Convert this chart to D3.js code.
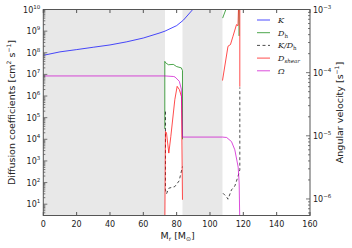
<!DOCTYPE html>
<html>
<head>
<meta charset="utf-8">
<script src="https://cdn.jsdelivr.net/npm/d3@7"></script>
<style>
  body { margin: 0; background: #fff; }
  text { font-family: "DejaVu Sans", sans-serif; fill: #222; }
  .leg { font-family: "DejaVu Serif", serif; font-style: italic; font-size: 8px; }
</style>
</head>
<body>
<div id="chart"></div>
<script>
// mass coordinate [Msun] and values
const grayZones = [[0, 73], [83.5, 107.5]];
const kappa = [[0, 7.6e7], [10, 1.1e8], [20, 1.4e8], [30, 1.8e8], [40, 2.3e8], [50, 3.2e8], [60, 4.8e8],
    [70, 8.3e8], [73, 1.0e9], [80, 1.8e9], [84, 3.2e9], [90, 1.07e10], [92, 1.6e10]];
const dh = [[72.9, 3e4], [72.9, 4e7], [73.3, 3.5e7], [75, 2.8e7], [78, 2.9e7], [80, 2.3e7], [82.8, 2.0e7],
    [83.5, 1.5e7], [83.5, 1e4], null,
    [107.6, 4e9], [109.9, 1.2e10], null,
    [117.4, 6e8], [117.4, 1.5e10]];
const kOverDh = [[73.3, 1.9e5], [73.3, 46], [73.9, 30], [75.3, 55], [78.9, 65], [81.5, 120], [83.5, 550], null,
    [107.8, 32], [109.9, 22], [110.8, 17], [112.9, 46], [114.9, 69], [116.8, 190], [117.9, 390], [117.9, 2.5e6]];
const dshear = [[72.9, 1], [73.3, 2.3e4], [73.9, 2.0e4], [75.3, 2.3e3], [76.5, 1.35e4], [78.9, 6.8e5],
    [80.3, 2.8e6], [81.6, 2.0e6], [82.9, 9.5e5], [83.5, 16], null,
    [107.5, 5.2e6], [110.8, 2.0e8], [112.3, 2.4e8], [113.8, 5.8e8], [115.9, 2.0e9], [116.8, 1.8e9],
    [117.2, 2e10], [117.9, 2e10], [117.9, 2.7e6]];
const omega = [[0, 8.87e-5], [73, 8.87e-5], [78, 8.7e-5], [79, 8.55e-5], [81.6, 7.3e-5], [82.8, 5.5e-5],
    [83.5, 9.55e-6], [107.5, 9.55e-6], [110, 9.4e-6], [112.9, 8.1e-6], [114.9, 6.0e-6], [116.9, 3.2e-6],
    [117.5, 1.8e-6], [117.9, 4e-7]];
const xTicks = [0, 20, 40, 60, 80, 100, 120, 140, 160];
const leftExp = [1, 2, 3, 4, 5, 6, 7, 8, 9, 10];
const rightExp = [-6, -5, -4, -3];

const width = 352, height = 248;
const L = 43.3, R = 310, T = 9.5, B = 215.5;

const x = d3.scaleLinear().domain([0, 160]).range([L, R]);
const y = d3.scaleLog().domain([3, 1e10]).range([B, T]);
const y2 = d3.scaleLog().domain([5.47e-7, 1e-3]).range([B, T]);

const svg = d3.select('#chart').append('svg')
    .attr('width', width)
    .attr('height', height);

svg.append('clipPath').attr('id', 'clip')
    .append('rect').attr('x', L).attr('y', T).attr('width', R - L).attr('height', B - T);

// shaded zones
svg.append('g').selectAll('rect')
    .data(grayZones).enter()
    .append('rect')
    .attr('x', d => x(d[0]))
    .attr('width', d => x(d[1]) - x(d[0]))
    .attr('y', T)
    .attr('height', B - T)
    .attr('fill', '#e8e8e8');

const plot = svg.append('g').attr('clip-path', 'url(#clip)');

function drawLine(data, scale, color, dash) {
    const line = d3.line()
        .defined(d => d !== null)
        .x(d => x(d[0]))
        .y(d => scale(d[1]));
    plot.append('path')
        .datum(data)
        .attr('d', line)
        .attr('fill', 'none')
        .attr('stroke', color)
        .attr('stroke-width', 1)
        .attr('stroke-dasharray', dash || null);
}

const colors = {
    K: 'rgba(0,0,255,0.7)',
    Dh: 'rgba(0,128,0,0.7)',
    KD: 'rgba(0,0,0,0.7)',
    Ds: 'rgba(255,0,0,0.7)',
    Om: 'rgba(204,0,204,0.7)'
};

drawLine(kappa, y, colors.K);
drawLine(dh, y, colors.Dh);
drawLine(kOverDh, y, colors.KD, '3,2.5');
drawLine(dshear, y, colors.Ds);
drawLine(omega, y2, colors.Om);

// frame
const axisColor = '#555';
svg.append('rect')
    .attr('x', L).attr('y', T)
    .attr('width', R - L).attr('height', B - T)
    .attr('fill', 'none')
    .attr('stroke', axisColor)
    .attr('stroke-width', 1);

// x ticks, top and bottom, inside
const xt = svg.append('g');
xTicks.forEach(function (d) {
    xt.append('line').attr('x1', x(d)).attr('x2', x(d)).attr('y1', B).attr('y2', B - 3.5)
        .attr('stroke', axisColor);
    xt.append('line').attr('x1', x(d)).attr('x2', x(d)).attr('y1', T).attr('y2', T + 3.5)
        .attr('stroke', axisColor);
    xt.append('text')
        .attr('x', x(d)).attr('y', B + 11)
        .attr('text-anchor', 'middle')
        .attr('font-size', 8)
        .text(d);
});

// log ticks helper
function logTicks(scale, side) {
    const g = svg.append('g');
    const [lo, hi] = scale.domain();
    const e0 = Math.floor(Math.log10(lo)), e1 = Math.ceil(Math.log10(hi));
    const xs = side === 'left' ? L : R;
    const dir = side === 'left' ? 1 : -1;
    for (let e = e0; e <= e1; e++) {
        for (let m = 1; m <= 9; m++) {
            const v = m * Math.pow(10, e);
            if (v < lo * 0.999 || v > hi * 1.001) continue;
            const len = m === 1 ? 4 : 2;
            g.append('line')
                .attr('x1', xs).attr('x2', xs + dir * len)
                .attr('y1', scale(v)).attr('y2', scale(v))
                .attr('stroke', axisColor)
                .attr('stroke-width', 0.8);
        }
    }
    return g;
}
logTicks(y, 'left');
logTicks(y2, 'right');

function powLabel(g, xp, yp, exp, anchor) {
    const t = g.append('text')
        .attr('x', xp).attr('y', yp)
        .attr('text-anchor', anchor)
        .attr('font-size', 8);
    t.append('tspan').text('10');
    t.append('tspan').attr('dy', -4).attr('font-size', 5.5).text(String(exp).replace('-', '\u2212'));
}

const lab = svg.append('g');
leftExp.forEach(e => powLabel(lab, L - 3, y(Math.pow(10, e)) + 3, e, 'end'));
rightExp.forEach(e => powLabel(lab, R + 3, y2(Math.pow(10, e)) + 3, e, 'start'));

// axis titles
const yl = svg.append('text')
    .attr('transform', 'translate(15,' + ((T + B) / 2) + ') rotate(-90)')
    .attr('text-anchor', 'middle')
    .attr('font-size', 9.5);
yl.append('tspan').text('Diffusion coefficients [cm');
yl.append('tspan').attr('dy', -4).attr('font-size', 6).text('2');
yl.append('tspan').attr('dy', 4).text(' s');
yl.append('tspan').attr('dy', -4).attr('font-size', 6).text('\u22121');
yl.append('tspan').attr('dy', 4).text(']');

const yr = svg.append('text')
    .attr('transform', 'translate(343,' + ((T + B) / 2) + ') rotate(-90)')
    .attr('text-anchor', 'middle')
    .attr('font-size', 9.5);
yr.append('tspan').text('Angular velocity [s');
yr.append('tspan').attr('dy', -4).attr('font-size', 6).text('\u22121');
yr.append('tspan').attr('dy', 4).text(']');

const xl = svg.append('text')
    .attr('x', (L + R) / 2 + 1).attr('y', 239)
    .attr('text-anchor', 'middle')
    .attr('font-size', 9.5);
xl.append('tspan').text('M');
xl.append('tspan').attr('dy', 2).attr('font-size', 6).text('r');
xl.append('tspan').attr('dy', -2).text(' [M');
xl.append('tspan').attr('dy', 2).attr('font-size', 6).text('\u2299');
xl.append('tspan').attr('dy', -2).text(']');

// legend
const legendItems = [
    { key: 'K', color: colors.K },
    { key: 'Dh', color: colors.Dh },
    { key: 'KD', color: colors.KD, dash: '3,2.5' },
    { key: 'Ds', color: colors.Ds },
    { key: 'Om', color: colors.Om }
];
const leg = svg.append('g');
legendItems.forEach(function (d, i) {
    const ly = 20 + i * 12.7;
    leg.append('line')
        .attr('x1', 257).attr('x2', 270).attr('y1', ly).attr('y2', ly)
        .attr('stroke', d.color)
        .attr('stroke-dasharray', d.dash || null);
    const t = leg.append('text').attr('class', 'leg').attr('x', 278).attr('y', ly + 3);
    if (d.key === 'K') t.text('K');
    if (d.key === 'Dh') {
        t.append('tspan').text('D');
        t.append('tspan').attr('dy', 2).attr('font-size', 5.5).attr('font-style', 'normal').text('h');
    }
    if (d.key === 'KD') {
        t.append('tspan').text('K/D');
        t.append('tspan').attr('dy', 2).attr('font-size', 5.5).attr('font-style', 'normal').text('h');
    }
    if (d.key === 'Ds') {
        t.append('tspan').text('D');
        t.append('tspan').attr('dy', 2).attr('font-size', 5.5).text('shear');
    }
    if (d.key === 'Om') t.attr('font-style', 'normal').text('\u03a9');
});
</script>
</body>
</html>
